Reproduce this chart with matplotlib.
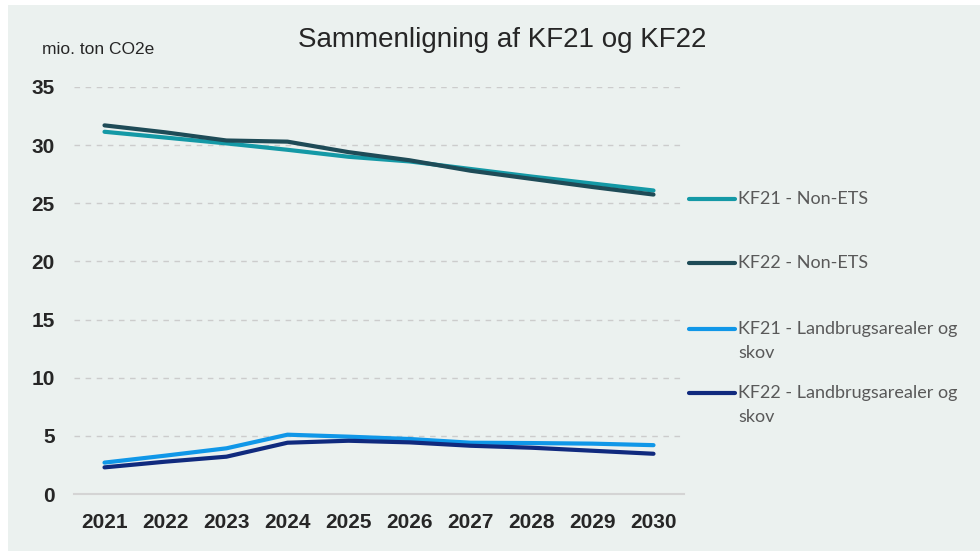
import matplotlib
matplotlib.use("Agg")
import matplotlib.pyplot as plt
from matplotlib.lines import Line2D
from matplotlib.patches import Rectangle

years = [2021, 2022, 2023, 2024, 2025, 2026, 2027, 2028, 2029, 2030]
kf21_non_ets = [31.15, 30.65, 30.15, 29.6, 29.0, 28.6, 27.95, 27.3, 26.7, 26.1]
kf22_non_ets = [31.7, 31.1, 30.4, 30.3, 29.4, 28.7, 27.8, 27.1, 26.4, 25.75]
kf21_lulucf = [2.7, 3.3, 3.93, 5.1, 4.93, 4.73, 4.41, 4.38, 4.33, 4.2]
kf22_lulucf = [2.29, 2.78, 3.21, 4.41, 4.58, 4.44, 4.15, 3.98, 3.72, 3.46]

labels = ["KF21 - Non-ETS", "KF22 - Non-ETS",
          "KF21 - Landbrugsarealer og\nskov", "KF22 - Landbrugsarealer og\nskov"]
colors = ["#1499a6", "#1e4b57", "#1097e8", "#102a7e"]
series = [kf21_non_ets, kf22_non_ets, kf21_lulucf, kf22_lulucf]
yticks = [0, 5, 10, 15, 20, 25, 30, 35]

bg = "#ebf1ef"
fig = plt.figure(figsize=(9.8, 5.51), dpi=100, facecolor="white")
fig.add_artist(Rectangle((8 / 980, 0), 1, 1 - 5 / 551, transform=fig.transFigure,
                         facecolor=bg, edgecolor="none", zorder=-10))

ax = fig.add_axes([74 / 980, 57 / 551, 610 / 980, 407 / 551])
ax.set_facecolor("none")

for vals, c in zip(series, colors):
    ax.plot(years, vals, color=c, lw=3.0, solid_capstyle="round", solid_joinstyle="round")

ax.set_xlim(2020.5, 2030.5)
ax.set_ylim(0, 35)
ax.set_xticks(years)
ax.set_xticklabels([str(y) for y in years], fontsize=15, fontweight="bold",
                   color="#262626", family="Liberation Sans")
ax.set_yticks(yticks)
ax.set_yticklabels([str(v) for v in yticks], fontsize=15, fontweight="bold",
                   color="#262626", family="Liberation Sans")
ax.tick_params(axis="x", length=0, pad=14)
ax.tick_params(axis="y", length=0, pad=14)
for v in yticks[1:]:
    ax.axhline(v, color="#cccccc", lw=1, ls=(0, (4, 4)), zorder=0)
for s in ["top", "right", "left"]:
    ax.spines[s].set_visible(False)
ax.spines["bottom"].set_color("#d4d4d4")
ax.spines["bottom"].set_linewidth(1.5)

fig.text(502 / 980, 1 - 40 / 551, "Sammenligning af KF21 og KF22", ha="center", va="center",
         fontsize=20, color="#262626", family="Liberation Sans")
fig.text(42 / 980, 1 - 50 / 551, "mio. ton CO2e", ha="left", va="center",
         fontsize=12.5, color="#262626", family="Liberation Sans")

# legend drawn by hand to the right of the plot
leg_y = [199, 263, 329, 393]
for lab, c, yy in zip(labels, colors, leg_y):
    yf = 1 - yy / 551
    fig.add_artist(Line2D([689 / 980, 735 / 980], [yf, yf], transform=fig.transFigure,
                          color=c, lw=3.0, solid_capstyle="round"))
    for i, part in enumerate(lab.split("\n")):
        fig.text(738 / 980, 1 - (yy + 24 * i) / 551, part, ha="left", va="center",
                 fontsize=13, color="#595959", family="Lato")

fig.savefig("out.png", dpi=100, facecolor=fig.get_facecolor())
